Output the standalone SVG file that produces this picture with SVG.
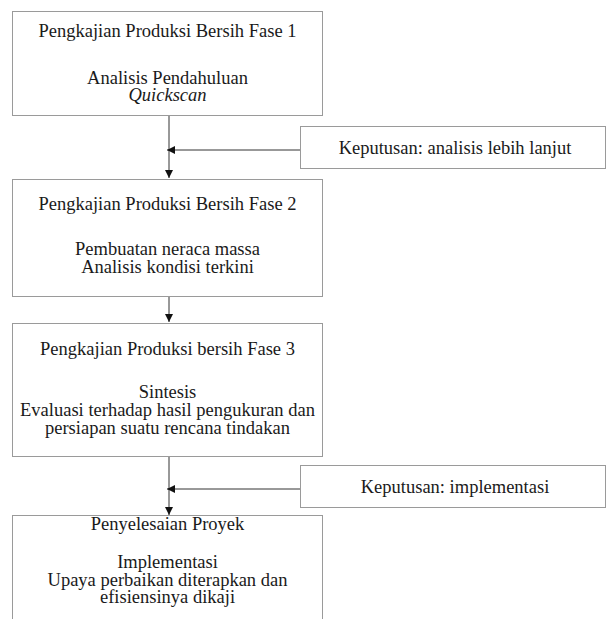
<svg xmlns="http://www.w3.org/2000/svg" width="606" height="619" viewBox="0 0 606 619">
<style>
.box{fill:#fff;stroke:#9a9a9a;stroke-width:1}
.t{font-family:"Liberation Serif",serif;font-size:18.5px;fill:#1a1a1a;text-anchor:middle}
.c{stroke:#333;stroke-width:1;fill:none}
</style>
<defs>
<marker id="ah" viewBox="0 0 10 10" refX="10" refY="5" markerWidth="8" markerHeight="8" markerUnits="userSpaceOnUse" orient="auto">
<path d="M0,0 L10,5 L0,10 z" fill="#111"/>
</marker>
</defs>
<rect width="606" height="619" fill="#fff"/>
<g id="connectors">
<line class="c" x1="169" y1="116" x2="169" y2="178" marker-end="url(#ah)"/>
<line class="c" x1="301" y1="150" x2="167" y2="150" marker-end="url(#ah)"/>
<line class="c" x1="169" y1="297" x2="169" y2="322" marker-end="url(#ah)"/>
<line class="c" x1="169" y1="457" x2="169" y2="515" marker-end="url(#ah)"/>
<line class="c" x1="301" y1="489" x2="167" y2="489" marker-end="url(#ah)"/>
</g>
<g id="node1">
<rect class="box" x="12.5" y="11.5" width="310" height="104"/>
<text class="t" x="167.5" y="37">Pengkajian Produksi Bersih Fase 1</text>
<text class="t" x="167.5" y="84">Analisis Pendahuluan</text>
<text class="t" x="167.5" y="101" font-style="italic">Quickscan</text>
</g>
<g id="decision1">
<rect class="box" x="300.5" y="126.5" width="305" height="42"/>
<text class="t" x="455" y="154">Keputusan: analisis lebih lanjut</text>
</g>
<g id="node2">
<rect class="box" x="12.5" y="179.5" width="310" height="117"/>
<text class="t" x="167.5" y="210">Pengkajian Produksi Bersih Fase 2</text>
<text class="t" x="167.5" y="255">Pembuatan neraca massa</text>
<text class="t" x="167.5" y="273">Analisis kondisi terkini</text>
</g>
<g id="node3">
<rect class="box" x="12.5" y="323.5" width="310" height="133"/>
<text class="t" x="167.5" y="355">Pengkajian Produksi bersih Fase 3</text>
<text class="t" x="167.5" y="398">Sintesis</text>
<text class="t" x="167.5" y="416">Evaluasi terhadap hasil pengukuran dan</text>
<text class="t" x="167.5" y="434">persiapan suatu rencana tindakan</text>
</g>
<g id="decision2">
<rect class="box" x="300.5" y="465.5" width="305" height="42"/>
<text class="t" x="455" y="493">Keputusan: implementasi</text>
</g>
<g id="node4">
<rect class="box" x="12.5" y="515.5" width="310" height="120"/>
<text class="t" x="167.5" y="530">Penyelesaian Proyek</text>
<text class="t" x="167.5" y="568">Implementasi</text>
<text class="t" x="167.5" y="586">Upaya perbaikan diterapkan dan</text>
<text class="t" x="167.5" y="603">efisiensinya dikaji</text>
</g>
</svg>
